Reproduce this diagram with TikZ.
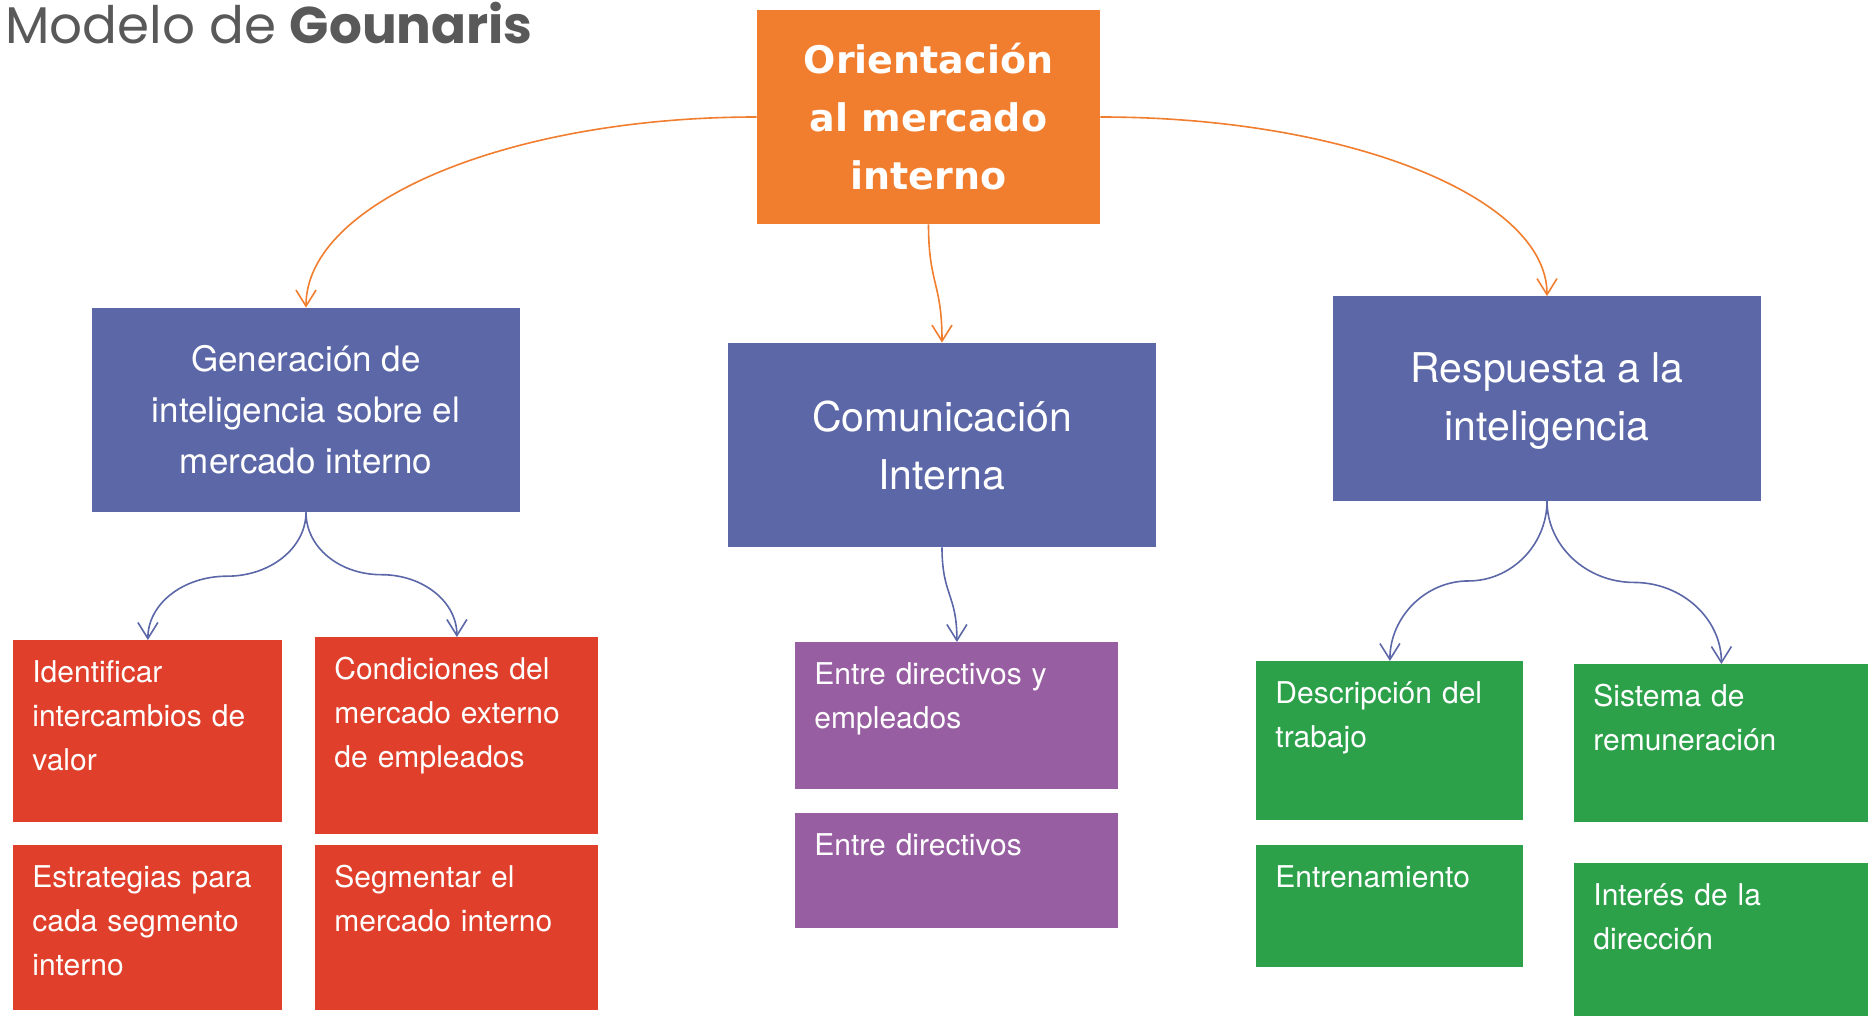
\documentclass[tikz,border=0pt]{standalone}
\usepackage{fontspec}
\setmainfont{TeX Gyre Heros}
\newfontfamily\titlefont{Poppins}
\newfontfamily\headfont{DejaVu Sans}
\usetikzlibrary{arrows.meta,calc}
\definecolor{rootfill}{HTML}{F07E2E}
\definecolor{stagefill}{HTML}{5C67A8}
\definecolor{genfill}{HTML}{E0402B}
\definecolor{comfill}{HTML}{985EA2}
\definecolor{respfill}{HTML}{2DA14A}
\definecolor{titlegray}{HTML}{595959}
\tikzset{
  rootbox/.style={fill=rootfill, text=white, minimum width=171.5pt, minimum height=107pt,
                  inner sep=0pt, align=center, font=\headfont\bfseries\fontsize{19}{29}\selectfont},
  stagebox/.style={fill=stagefill, text=white, minimum width=214pt, minimum height=102pt,
                   inner sep=0pt, align=center},
  leafbox/.style={anchor=north west, inner xsep=9.5pt, inner ysep=0pt, text=white,
                  align=left, text height=21pt, font=\fontsize{15}{22}\selectfont},
  genbox/.style={leafbox, fill=genfill},
  combox/.style={leafbox, fill=comfill},
  respbox/.style={leafbox, fill=respfill},
  rootlink/.style={draw=rootfill, line width=0.8pt, -{Straight Barb[length=8pt,width=10pt]}},
  stagelink/.style={draw=stagefill, line width=0.8pt, -{Straight Barb[length=8pt,width=10pt]}},
}

\begin{document}
\begin{tikzpicture}[x=0.5pt, y=-0.5pt]
    \useasboundingbox (0,0) rectangle (1875,1016);
    \node[anchor=base west, inner sep=0pt, text=titlegray, font=\titlefont\fontsize{25.8}{30}\selectfont]
      (title) at (5,44) {Modelo de \textbf{Gounaris}};

    % root and the three stages
    \node[rootbox] (root) at (928.5,117) {Orientación\\al mercado\\interno};
    \node[stagebox, font=\fontsize{17.5}{25.5}\selectfont] (gen) at (306,410) {Generación de\\inteligencia sobre el\\mercado interno};
    \node[stagebox, font=\fontsize{20.5}{29}\selectfont] (com) at (942,445) {Comunicación\\Interna};
    \node[stagebox, font=\fontsize{20.5}{29}\selectfont, text depth=2pt] (resp) at (1547,398.5) {Respuesta a la\\inteligencia};

    % leaves
    \node[genbox, text width=115.5pt, text depth=70pt] (ident) at (13,640) {Identificar\\intercambios de\\valor};
    \node[genbox, text width=122.5pt, text depth=77.5pt] (cond) at (315,637) {Condiciones del\\mercado externo\\de empleados};
    \node[genbox, text width=115.5pt, text depth=61.5pt] (estr) at (13,845) {Estrategias para\\cada segmento\\interno};
    \node[genbox, text width=122.5pt, text depth=61.5pt] (segm) at (315,845) {Segmentar el\\mercado interno};
    \node[combox, text width=142.5pt, text depth=52.5pt] (dirEmp) at (795,642) {Entre directivos y\\empleados};
    \node[combox, text width=142.5pt, text depth=36.5pt] (dirDir) at (795,813) {Entre directivos};
    \node[respbox, text width=114.5pt, text depth=58.5pt] (desc) at (1256,661) {Descripción del\\trabajo};
    \node[respbox, text width=128pt, text depth=58pt] (remu) at (1574,664) {Sistema de\\remuneración};
    \node[respbox, text width=114.5pt, text depth=40pt] (entr) at (1256,845) {Entrenamiento};
    \node[respbox, text width=128pt, text depth=55.5pt] (inter) at (1574,863) {Interés de la\\dirección};

    % links
    \draw[rootlink] (root.west) .. controls +(-249,0) and +(0,-105) .. (gen.north);
    \draw[rootlink] (root.east) .. controls +(247,0) and +(0,-99) .. (resp.north);
    \draw[rootlink] (root.south) .. controls +(0,60) and +(0,-60) .. (com.north);
    \draw[stagelink] (com.south) .. controls +(0,48) and +(0,-48) .. (dirEmp.north);
    \draw[stagelink] (gen.south) .. controls +(0,35) and +(44,0) .. ($(gen.south)!0.5!(ident.north)$)
      .. controls +(-44,0) and +(0,-36) .. (ident.north);
    \draw[stagelink] (gen.south) .. controls +(0,35) and +(-42,0) .. ($(gen.south)!0.5!(cond.north)$)
      .. controls +(42,0) and +(0,-35) .. (cond.north);
    \draw[stagelink] (resp.south) .. controls +(0,44) and +(43,0) .. ($(resp.south)!0.5!(desc.north)$)
      .. controls +(-43,0) and +(0,-44) .. (desc.north);
    \draw[stagelink] (resp.south) .. controls +(0,45) and +(-48,0) .. ($(resp.south)!0.5!(remu.north)$)
      .. controls +(48,0) and +(0,-45) .. (remu.north);
  \end{tikzpicture}
\end{document}
